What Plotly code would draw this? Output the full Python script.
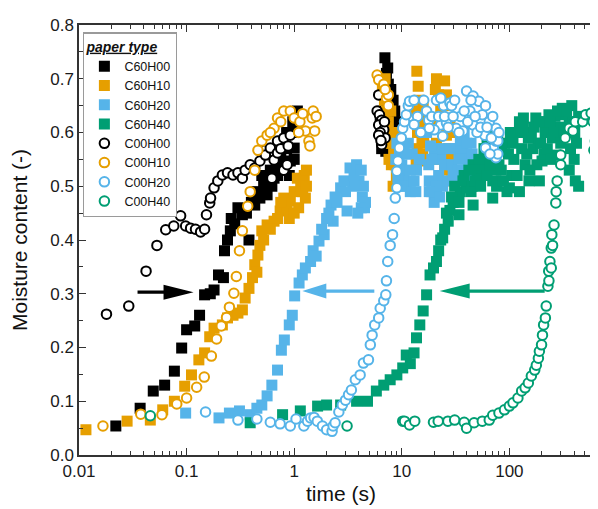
import plotly.graph_objects as go

# ---------------- data (time in s, moisture content in -) ----------------
t_c60h00 = [0.022, 0.037, 0.049, 0.0625, 0.077, 0.090, 0.100, 0.119, 0.132, 0.147, 0.166, 0.18, 0.198, 0.22,
            0.225, 0.24, 0.255, 0.28, 0.38, 0.33, 0.43, 0.48, 0.56, 0.62, 0.65, 0.70, 0.80, 0.92, 1.0, 1.07,
            0.75, 0.85, 0.95, 0.6, 0.52, 0.9, 1.05,
            0.26, 0.30, 0.36, 0.40, 0.45, 0.50, 0.58, 0.68, 0.72, 0.78, 0.85, 0.97, 1.0,
            6.97, 7.2, 7.5, 7.8, 8.2, 8.5, 8.6, 8.4, 8.0, 7.6, 7.0, 6.6, 6.3, 6.8, 7.3, 8.0, 6.5,
            7.4, 7.9, 8.3, 8.6, 8.8, 8.7, 8.2, 7.1, 6.7, 6.4, 6.7, 7.5, 7.2]
m_c60h00 = [0.054, 0.087, 0.119, 0.13, 0.156, 0.199, 0.233, 0.24, 0.26, 0.298, 0.30, 0.307, 0.335, 0.33,
            0.38, 0.40, 0.417, 0.43, 0.40, 0.447, 0.465, 0.478, 0.484, 0.50, 0.515, 0.52, 0.534, 0.547, 0.571, 0.64,
            0.55, 0.57, 0.60, 0.53, 0.50, 0.52, 0.62,
            0.44, 0.46, 0.45, 0.47, 0.49, 0.52, 0.52, 0.54, 0.56, 0.58, 0.60, 0.62, 0.55,
            0.739, 0.71, 0.69, 0.67, 0.65, 0.63, 0.61, 0.59, 0.575, 0.565, 0.58, 0.60, 0.62, 0.64, 0.66, 0.60, 0.57,
            0.72, 0.68, 0.66, 0.64, 0.62, 0.58, 0.57, 0.565, 0.59, 0.61, 0.63, 0.60, 0.62]

t_c60h10 = [0.0116, 0.028, 0.046, 0.06, 0.077, 0.096, 0.111, 0.13, 0.147, 0.164, 0.18, 0.215, 0.24, 0.27, 0.30,
            0.33, 0.35, 0.38, 0.41, 0.43, 0.46, 0.48, 0.50, 0.56, 0.65, 0.74, 0.80, 0.92, 1.0, 1.07, 1.24, 1.27,
            1.15, 0.86, 0.70, 1.3,
            0.45, 0.52, 0.6, 0.9, 1.1, 1.2, 1.3, 0.75, 1.0,
            6.6, 6.9, 7.2, 7.5, 7.8, 8.1, 8.4, 8.7, 8.9, 8.3, 7.0, 7.6,
            6.8, 7.3, 8.0, 8.6, 8.9, 7.9,
            13.8, 14.2, 14.5, 14.8, 15.1, 15.4, 15.6, 15.0, 13.9,
            13.5, 14.0, 16.0, 16.5, 13.6, 15.8,
            21, 25, 22, 23, 24, 26, 27, 28, 25, 29, 27, 28,
            20, 21, 22, 30, 29.5, 20.5, 26]
m_c60h10 = [0.047, 0.063, 0.065, 0.084, 0.10, 0.128, 0.149, 0.177, 0.19, 0.22, 0.236, 0.242, 0.255, 0.26, 0.264,
            0.27, 0.292, 0.31, 0.33, 0.354, 0.372, 0.39, 0.417, 0.428, 0.435, 0.454, 0.478, 0.473, 0.49, 0.515, 0.52, 0.478,
            0.50, 0.46, 0.44, 0.53,
            0.34, 0.40, 0.42, 0.44, 0.46, 0.49, 0.50, 0.47, 0.45,
            0.68, 0.66, 0.64, 0.62, 0.60, 0.58, 0.56, 0.54, 0.52, 0.50, 0.70, 0.55,
            0.62, 0.58, 0.54, 0.60, 0.57, 0.64,
            0.714, 0.686, 0.66, 0.635, 0.61, 0.585, 0.56, 0.547, 0.57,
            0.64, 0.60, 0.58, 0.62, 0.545, 0.65,
            0.70, 0.696, 0.67, 0.645, 0.62, 0.595, 0.57, 0.55, 0.53, 0.51, 0.65, 0.62,
            0.62, 0.58, 0.55, 0.60, 0.56, 0.68, 0.67]

t_c60h20 = [0.098, 0.20, 0.25, 0.31, 0.39, 0.45, 0.50, 0.56, 0.62, 0.70, 0.76, 0.81, 0.90, 0.96, 1.01, 1.11,
            1.19, 1.27, 1.42, 1.5, 1.7, 1.9, 2.2, 2.3, 2.7, 3.1, 3.3, 3.8, 4.0, 4.3, 4.5, 2.0, 2.5, 3.5,
            1.6, 1.8, 2.1, 2.4, 2.9, 3.0, 3.6, 4.2, 4.4, 4.6, 4.2, 3.9,
            9.0, 9.5, 10, 10.5, 11, 12, 13, 13.7, 12.5, 11.5, 9.2,
            8.8, 9.8, 10.5, 12, 13.5, 14.5, 11,
            17, 17.8, 18, 19, 20, 21, 22, 23, 20, 24, 18.5,
            19, 21, 22.5, 24, 25, 18,
            27, 29, 32, 35, 37, 40, 42, 44, 33, 38,
            30, 34, 40, 45, 28, 36]
m_c60h20 = [0.078, 0.069, 0.078, 0.082, 0.075, 0.087, 0.093, 0.11, 0.13, 0.158, 0.195, 0.214, 0.242, 0.26, 0.296, 0.32,
            0.335, 0.348, 0.36, 0.38, 0.398, 0.41, 0.465, 0.435, 0.497, 0.454, 0.534, 0.54, 0.51, 0.48, 0.46, 0.44, 0.47, 0.50,
            0.37, 0.42, 0.45, 0.48, 0.51, 0.49, 0.52, 0.53, 0.50, 0.47, 0.46, 0.45,
            0.58, 0.56, 0.54, 0.52, 0.50, 0.49, 0.51, 0.53, 0.56, 0.58, 0.515,
            0.55, 0.50, 0.57, 0.53, 0.49, 0.55, 0.56,
            0.60, 0.54, 0.51, 0.49, 0.47, 0.484, 0.52, 0.55, 0.57, 0.50, 0.575,
            0.55, 0.50, 0.48, 0.57, 0.54, 0.49,
            0.51, 0.54, 0.57, 0.585, 0.566, 0.52, 0.55, 0.58, 0.53, 0.60,
            0.52, 0.55, 0.58, 0.56, 0.57, 0.53]

t_c60h40 = [0.39, 0.78, 1.14, 1.65, 2.0, 2.7, 3.8, 4.8, 5.8, 6.8, 7.8, 9.0, 10.2, 11, 12, 13, 13.7, 14.7, 15.8,
            17, 18.3, 19.7, 21, 22, 23, 24, 25, 27, 28, 30, 32, 35, 40, 37, 45, 50, 56, 60, 65, 70, 70, 75,
            80, 85, 90, 95, 100, 105, 110, 115, 124, 130, 140, 152, 160, 176, 185, 201, 215, 233, 250, 270,
            290, 310, 330, 350, 380, 400, 410, 430, 420, 46, 52, 62, 150, 200, 265, 62, 68, 78,
            26, 29, 31, 34, 38, 42, 44, 48, 54, 58, 66, 72, 76, 84, 88, 98, 102, 108, 118, 128, 135, 145,
            155, 165, 170, 180, 190, 195, 210, 225, 240, 245, 260, 280, 300, 320, 340, 360, 370, 390, 405,
            440, 360, 124, 135, 190, 440, 34, 46]
m_c60h40 = [0.06, 0.075, 0.082, 0.091, 0.093, 0.093, 0.10, 0.10, 0.119, 0.13, 0.14, 0.149, 0.162, 0.186, 0.17, 0.19, 0.218, 0.242, 0.268,
            0.298, 0.335, 0.348, 0.36, 0.38, 0.40, 0.404, 0.42, 0.435, 0.455, 0.47, 0.478, 0.49, 0.497, 0.51, 0.50, 0.52, 0.534, 0.55, 0.56, 0.51, 0.478, 0.53,
            0.54, 0.57, 0.58, 0.49, 0.497, 0.52, 0.55, 0.60, 0.62, 0.57, 0.54, 0.51, 0.60, 0.627, 0.58, 0.547, 0.60, 0.633, 0.59, 0.558,
            0.61, 0.645, 0.633, 0.60, 0.65, 0.55, 0.51, 0.62, 0.58, 0.54, 0.55, 0.52, 0.59, 0.62, 0.63, 0.58, 0.60, 0.59,
            0.45, 0.48, 0.50, 0.47, 0.52, 0.53, 0.49, 0.51, 0.50, 0.57, 0.54, 0.58, 0.50, 0.53, 0.51, 0.56, 0.60, 0.58, 0.52, 0.60, 0.61, 0.56,
            0.53, 0.57, 0.61, 0.54, 0.62, 0.58, 0.56, 0.57, 0.62, 0.55, 0.60, 0.64, 0.58, 0.60, 0.64, 0.62, 0.57, 0.62, 0.60,
            0.63, 0.53, 0.49, 0.627, 0.51, 0.50, 0.447, 0.465]

t_c00h00 = [0.018, 0.029, 0.042, 0.053, 0.064, 0.076, 0.088, 0.098, 0.109, 0.121, 0.135, 0.147, 0.153, 0.164, 0.167,
            0.18, 0.195, 0.215, 0.24, 0.27, 0.30, 0.33, 0.35, 0.39, 0.43, 0.48, 0.53, 0.54, 0.60, 0.62, 0.65, 0.70,
            0.70, 0.80, 0.80, 0.86, 0.92, 0.75, 0.88,
            6.1, 5.9, 6.2, 6.5, 6.1, 6.8, 6.3, 7.0, 6.5, 6.1, 6.4, 6.9]
m_c00h00 = [0.262, 0.277, 0.342, 0.39, 0.419, 0.426, 0.445, 0.426, 0.422, 0.42, 0.415, 0.42, 0.447, 0.469, 0.478,
            0.497, 0.51, 0.521, 0.525, 0.521, 0.525, 0.515, 0.53, 0.54, 0.534, 0.547, 0.567, 0.558, 0.571, 0.515, 0.549, 0.584,
            0.562, 0.59, 0.53, 0.54, 0.595, 0.57, 0.575,
            0.67, 0.64, 0.633, 0.623, 0.614, 0.605, 0.60, 0.59, 0.577, 0.595, 0.585, 0.62]

t_c00h10 = [0.0167, 0.0375, 0.059, 0.081, 0.10, 0.124, 0.146, 0.17, 0.19, 0.21, 0.235, 0.25, 0.275, 0.29, 0.31,
            0.33, 0.37, 0.39, 0.46, 0.50, 0.56, 0.65, 0.70, 0.80, 0.92, 1.0, 1.13, 1.27, 1.37, 1.47, 1.5, 1.6, 1.4,
            1.55, 0.43, 0.6, 0.75, 1.2, 1.1,
            5.9, 6.1, 6.8, 7.2, 7.5, 7.5, 7.0]
m_c00h10 = [0.054, 0.076, 0.075, 0.095, 0.106, 0.126, 0.145, 0.184, 0.216, 0.24, 0.256, 0.275, 0.301, 0.332, 0.38,
            0.417, 0.463, 0.49, 0.567, 0.584, 0.595, 0.608, 0.627, 0.64, 0.64, 0.627, 0.62, 0.603, 0.584, 0.627, 0.64, 0.63, 0.575,
            0.603, 0.53, 0.60, 0.62, 0.635, 0.60,
            0.707, 0.698, 0.69, 0.664, 0.67, 0.65, 0.68]

t_c00h20 = [0.15, 0.30, 0.45, 0.60, 0.74, 0.92, 1.04, 1.23, 1.33, 1.42, 1.53, 1.64, 1.83, 2.0, 2.25, 2.3, 2.4, 2.6,
            2.8, 3.0, 3.2, 3.4, 3.7, 4.1, 4.4, 4.9, 5.1, 5.3, 5.6, 6.1, 6.3, 6.8, 7.1, 7.2, 7.4, 7.8, 8.2, 8.5, 8.7,
            9.0, 9.0, 9.2, 9.5, 9.9, 10.2, 10.6, 11, 11.5, 11.8,
            17, 21, 24.5, 28, 23, 17.8, 20, 26, 32, 40, 46, 43, 46, 52, 56, 59, 71, 75, 75, 75, 23, 29, 60, 78, 60,
            37, 24, 18, 14, 15, 13, 35, 65,
            13, 16, 19, 22, 25, 27, 30, 31, 34, 38, 41, 44, 48, 50, 54, 62, 68, 70, 78, 80, 66]
m_c00h20 = [0.08, 0.065, 0.067, 0.061, 0.058, 0.054, 0.067, 0.054, 0.063, 0.069, 0.07, 0.063, 0.054, 0.047, 0.044, 0.054, 0.06, 0.08,
            0.093, 0.102, 0.112, 0.121, 0.14, 0.149, 0.171, 0.177, 0.205, 0.223, 0.242, 0.255, 0.273, 0.287, 0.298, 0.324, 0.36, 0.39, 0.41, 0.44, 0.478,
            0.497, 0.528, 0.547, 0.571, 0.59, 0.608, 0.62, 0.633, 0.65, 0.658,
            0.64, 0.66, 0.65, 0.655, 0.614, 0.623, 0.605, 0.618, 0.608, 0.677, 0.668, 0.64, 0.614, 0.658, 0.633, 0.595, 0.571, 0.608, 0.553, 0.584, 0.664, 0.65, 0.65, 0.584, 0.571,
            0.603, 0.593, 0.608, 0.63, 0.60, 0.615, 0.63, 0.62,
            0.66, 0.66, 0.63, 0.63, 0.63, 0.61, 0.63, 0.66, 0.60, 0.64, 0.62, 0.66, 0.63, 0.60, 0.61, 0.61, 0.59, 0.63, 0.56, 0.60, 0.56]

t_c00h40 = [0.046, 3.1, 10.2, 10.6, 11.8, 13.2, 19.7, 21.8, 26.8, 31, 38, 40, 47, 56, 65, 70, 80, 90, 100, 108,
            120, 130, 140, 150, 160, 172, 178, 186, 190, 199, 203, 208, 216, 220, 228, 232, 238, 245, 248, 252,
            260, 270, 272, 278, 300, 300, 330, 360, 390, 410, 480, 510, 600, 630, 610, 575, 233, 245]
m_c00h40 = [0.073, 0.054, 0.063, 0.063, 0.056, 0.063, 0.061, 0.063, 0.063, 0.065, 0.061, 0.05, 0.06, 0.063, 0.065, 0.074, 0.078, 0.084, 0.091, 0.097,
            0.106, 0.119, 0.125, 0.134, 0.147, 0.158, 0.167, 0.18, 0.193, 0.205, 0.223, 0.242, 0.255, 0.277, 0.314, 0.342, 0.36, 0.385, 0.41, 0.39,
            0.428, 0.469, 0.49, 0.51, 0.54, 0.558, 0.59, 0.608, 0.603, 0.62, 0.62, 0.633, 0.62, 0.584, 0.567, 0.636, 0.324, 0.348]

# arrows: tip position (time, moisture), total length and head length in px
arrow_tip_t = [0.116, 1.19, 22.5]
arrow_tip_m = [0.303, 0.305, 0.305]
arrow_len_px = [56, 72, 105]
arrow_head_px = [30, 24, 30]
arrow_dir = [1, -1, -1]

BLACK = "#000000"
ORANGE = "#E69F00"
BLUE = "#56B4E9"
GREEN = "#009E73"
arrow_colors = [BLACK, BLUE, GREEN]

series = [
    ("C60H00", t_c60h00, m_c60h00, BLACK, "square"),
    ("C60H10", t_c60h10, m_c60h10, ORANGE, "square"),
    ("C60H20", t_c60h20, m_c60h20, BLUE, "square"),
    ("C60H40", t_c60h40, m_c60h40, GREEN, "square"),
    ("C00H00", t_c00h00, m_c00h00, BLACK, "circle"),
    ("C00H10", t_c00h10, m_c00h10, ORANGE, "circle"),
    ("C00H20", t_c00h20, m_c00h20, BLUE, "circle"),
    ("C00H40", t_c00h40, m_c00h40, GREEN, "circle"),
]

FONT = "Liberation Sans, Arial, sans-serif"

fig = go.Figure()
for name, tx, my, col, sym in series:
    if sym == "square":
        marker = dict(symbol="square", size=11, color=col, line=dict(width=0))
    else:
        marker = dict(symbol="circle", size=9.5, color="white", line=dict(color=col, width=2))
    fig.add_trace(go.Scatter(x=tx, y=my, mode="markers", name=name, marker=marker))

shapes = []
for tt, mm, L, H, col, d in zip(arrow_tip_t, arrow_tip_m, arrow_len_px, arrow_head_px, arrow_colors, arrow_dir):
    hw = 7.5
    sw = 1.6
    path = (f"M0,0 L{-d*H},{hw} L{-d*H},{sw} L{-d*L},{sw} L{-d*L},{-sw} "
            f"L{-d*H},{-sw} L{-d*H},{-hw} Z")
    shapes.append(dict(type="path", xref="x", yref="y", xsizemode="pixel", ysizemode="pixel",
                       xanchor=tt, yanchor=mm, path=path, fillcolor=col, line=dict(width=0)))

axis_common = dict(
    showline=True, linecolor="#333333", linewidth=1.5, mirror="allticks",
    ticks="inside", ticklen=7, tickwidth=1.3, tickcolor="#333333",
    showgrid=False, zeroline=False,
    tickfont=dict(family=FONT, size=17, color="#1a1a1a"),
    title_font=dict(family=FONT, size=21, color="#111111"),
)

fig.update_layout(
    width=598, height=509,
    margin=dict(l=71, r=1, t=17, b=62),
    paper_bgcolor="white", plot_bgcolor="white",
    shapes=shapes,
    showlegend=True,
    legend=dict(
        x=0.008, y=0.983, xanchor="left", yanchor="top",
        bgcolor="white", bordercolor="#9a9a9a", borderwidth=1.2,
        font=dict(family=FONT, size=12.5, color="#111111"),
        title=dict(text="<b><i><u>paper type</u></i></b>", side="top",
                   font=dict(family=FONT, size=14, color="#111111")),
        itemsizing="trace",
    ),
)

fig.update_xaxes(
    type="log", range=[-2, 2.87],
    tickvals=[0.01, 0.1, 1, 10, 100], ticktext=["0.01", "0.1", "1", "10", "100"],
    minor=dict(ticks="inside", ticklen=4, tickwidth=1.1, tickcolor="#333333", dtick="D1", showgrid=False),
    title=dict(text="time (s)", standoff=6),
    **axis_common,
)
fig.update_yaxes(
    range=[0, 0.8], dtick=0.1, tickformat=".1f",
    minor=dict(ticks="inside", ticklen=4, tickwidth=1.1, tickcolor="#333333", dtick=0.05, showgrid=False),
    title=dict(text="Moisture content (-)", standoff=17),
    **axis_common,
)

fig.write_html("out.html")
